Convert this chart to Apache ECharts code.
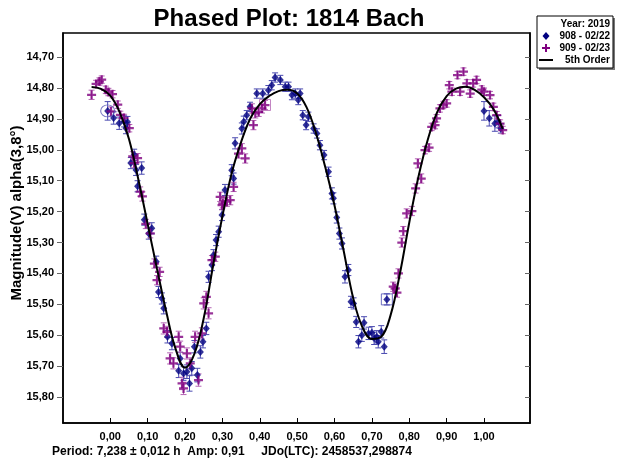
<!DOCTYPE html>
<html>
<head>
<meta charset="utf-8">
<script src="https://cdn.jsdelivr.net/npm/echarts@6/dist/echarts.min.js"></script>
<style>
html,body{margin:0;padding:0;background:#fff;}
#chart{width:618px;height:463px;}
</style>
</head>
<body>
<div id="chart"></div>
<script>
// ---- data (phase, magnitude, error) ----
const phaseTicks = [0, 0.1, 0.2, 0.3, 0.4, 0.5, 0.6, 0.7, 0.8, 0.9, 1.0];
const magTicks = [14.7, 14.8, 14.9, 15.0, 15.1, 15.2, 15.3, 15.4, 15.5, 15.6, 15.7, 15.8];

const obs908 = [
  [-0.007,14.874,0.03],[0.009,14.897,0.02],[0.024,14.914,0.02],[0.037,14.908,0.018],[0.046,14.91,0.018],
  [0.042,14.93,0.018],[0.055,15.043,0.018],[0.064,15.016,0.018],[0.069,15.065,0.018],[0.084,15.059,0.02],
  [0.073,15.118,0.018],[0.091,15.226,0.018],[0.111,15.254,0.018],[0.103,15.271,0.018],[0.123,15.362,0.018],
  [0.129,15.46,0.018],[0.138,15.481,0.018],[0.143,15.513,0.018],[0.153,15.605,0.02],[0.165,15.627,0.02],
  [0.187,15.675,0.02],[0.183,15.715,0.022],[0.196,15.724,0.022],[0.205,15.718,0.022],[0.212,15.756,0.025],
  [0.218,15.707,0.022],[0.225,15.637,0.02],[0.241,15.654,0.02],[0.233,15.729,0.022],[0.248,15.621,0.02],
  [0.257,15.578,0.02],[0.263,15.411,0.018],[0.272,15.373,0.018],[0.276,15.341,0.018],[0.283,15.292,0.018],
  [0.29,15.265,0.018],[0.299,15.211,0.018],[0.307,15.13,0.018],[0.325,15.066,0.018],[0.33,15.093,0.018],
  [0.334,14.979,0.018],[0.352,14.931,0.018],[0.357,14.909,0.018],[0.365,14.888,0.015],[0.374,14.861,0.015],
  [0.392,14.818,0.015],[0.408,14.818,0.015],[0.423,14.807,0.015],[0.432,14.791,0.015],[0.441,14.766,0.015],
  [0.455,14.774,0.015],[0.468,14.796,0.015],[0.477,14.796,0.015],[0.486,14.823,0.015],[0.495,14.818,0.015],
  [0.508,14.818,0.015],[0.503,14.839,0.015],[0.515,14.888,0.015],[0.524,14.92,0.015],[0.53,14.893,0.015],
  [0.544,14.931,0.015],[0.553,14.947,0.015],[0.561,14.985,0.015],[0.572,15.017,0.015],[0.584,15.071,0.015],
  [0.593,15.141,0.018],[0.597,15.157,0.018],[0.606,15.219,0.018],[0.613,15.271,0.018],[0.62,15.303,0.018],
  [0.637,15.389,0.018],[0.628,15.411,0.02],[0.644,15.492,0.018],[0.651,15.497,0.018],[0.658,15.557,0.018],
  [0.679,15.56,0.02],[0.673,15.60,0.02],[0.664,15.621,0.02],[0.691,15.594,0.02],[0.70,15.592,0.02],
  [0.706,15.61,0.02],[0.713,15.605,0.02],[0.717,15.621,0.02],[0.725,15.589,0.02],[0.733,15.637,0.022],
  [0.74,15.484,0.018],[1.0,14.874,0.03],[1.014,14.898,0.025],[1.029,14.915,0.025],[1.038,14.909,0.02],
  [1.045,14.931,0.015]
];

const obs909 = [
  [-0.05,14.822,0.015],[-0.038,14.787,0.012],[-0.029,14.779,0.012],[-0.023,14.773,0.012],[-0.012,14.806,0.012],
  [-0.005,14.813,0.012],[0.006,14.82,0.012],[0.002,14.876,0.015],[0.02,14.854,0.012],[0.027,14.887,0.012],
  [0.037,14.897,0.012],[0.051,14.93,0.012],[0.06,15.021,0.015],[0.073,15.027,0.015],[0.064,15.043,0.015],
  [0.08,15.135,0.015],[0.086,15.151,0.015],[0.095,15.24,0.015],[0.107,15.27,0.015],[0.118,15.368,0.015],
  [0.132,15.395,0.015],[0.125,15.422,0.015],[0.143,15.578,0.018],[0.152,15.589,0.018],[0.183,15.605,0.018],
  [0.16,15.675,0.018],[0.169,15.691,0.018],[0.187,15.637,0.018],[0.205,15.659,0.018],[0.192,15.756,0.02],
  [0.196,15.772,0.02],[0.236,15.745,0.02],[0.214,15.691,0.018],[0.227,15.605,0.018],[0.245,15.594,0.018],
  [0.25,15.497,0.018],[0.257,15.476,0.018],[0.263,15.529,0.018],[0.272,15.357,0.015],[0.281,15.346,0.015],
  [0.301,15.173,0.015],[0.312,15.168,0.015],[0.294,15.152,0.015],[0.299,15.179,0.015],[0.321,15.163,0.015],
  [0.33,15.12,0.015],[0.343,15.012,0.015],[0.352,14.995,0.015],[0.361,15.028,0.015],[0.383,14.92,0.015],
  [0.379,14.866,0.015],[0.388,14.882,0.015],[0.397,14.877,0.015],[0.406,14.866,0.015],[0.414,14.855,0.015],
  [0.757,15.443,0.015],[0.762,15.449,0.015],[0.767,15.462,0.015],[0.771,15.40,0.015],[0.78,15.30,0.015],
  [0.784,15.263,0.015],[0.793,15.206,0.015],[0.807,15.198,0.015],[0.817,15.125,0.015],[0.832,15.093,0.015],
  [0.823,15.044,0.015],[0.842,15.001,0.012],[0.853,14.993,0.012],[0.86,14.926,0.012],[0.869,14.92,0.012],
  [0.873,14.898,0.012],[0.882,14.866,0.012],[0.891,14.855,0.012],[0.90,14.85,0.012],[0.907,14.791,0.012],
  [0.914,14.812,0.012],[0.929,14.758,0.012],[0.945,14.747,0.012],[0.936,14.812,0.012],[0.954,14.785,0.012],
  [0.963,14.818,0.012],[0.971,14.785,0.012],[0.98,14.774,0.012],[0.994,14.805,0.012],[1.0,14.812,0.012],
  [1.016,14.823,0.012],[1.025,14.861,0.012],[1.034,14.888,0.012],[1.043,14.915,0.012],[1.05,14.936,0.012]
];

// points flagged in the reference (circle / square around them)
const circled908 = [[-0.007,14.874]];
const boxed908 = [[0.74,15.484]];
const boxed909 = [[0.414,14.855]];

// 5th order fit
const fitPhase = [-0.05,-0.025,0.0,0.025,0.05,0.075,0.10,0.125,0.15,0.175,0.20,0.225,0.25,0.275,0.30,0.325,0.35,0.375,0.40,0.425,0.45,0.475,0.50,0.525,0.55,0.575,0.60,0.625,0.65,0.675,0.70,0.725,0.75,0.775,0.80,0.825,0.85,0.875,0.90,0.925,0.95,0.975,1.00,1.025,1.05];
const fitMag = [14.797,14.803,14.825,14.878,14.965,15.095,15.24,15.385,15.525,15.645,15.705,15.66,15.545,15.375,15.215,15.075,14.975,14.898,14.852,14.826,14.81,14.806,14.818,14.862,14.945,15.055,15.18,15.33,15.48,15.575,15.612,15.605,15.535,15.40,15.235,15.085,14.965,14.877,14.826,14.802,14.796,14.806,14.83,14.868,14.932];

const navy = '#000080';
const purple = '#800080';
const navyErr = '#4a4ab0';
const purpleErr = '#b466b4';
const FONT = '"Liberation Sans", Arial, sans-serif';

const fmt2 = v => v.toFixed(2).replace('.', ',');

function errRender(color) {
  return function (params, api) {
    const x = api.value(0), y = api.value(1), e = api.value(2);
    const p1 = api.coord([x, y - e]);
    const p2 = api.coord([x, y + e]);
    const style = { stroke: color, lineWidth: 1 };
    return {
      type: 'group',
      children: [
        { type: 'line', shape: { x1: p1[0], y1: p1[1], x2: p2[0], y2: p2[1] }, style },
        { type: 'line', shape: { x1: p1[0] - 3, y1: p1[1], x2: p1[0] + 3, y2: p1[1] }, style },
        { type: 'line', shape: { x1: p2[0] - 3, y1: p2[1], x2: p2[0] + 3, y2: p2[1] }, style }
      ]
    };
  };
}

const plusPath = 'path://M3,0H5V3H8V5H5V8H3V5H0V3H3Z';

const chart = echarts.init(document.getElementById('chart'), null, { renderer: 'canvas' });

chart.setOption({
  animation: false,
  backgroundColor: '#fff',
  textStyle: { fontFamily: FONT },
  title: {
    text: 'Phased Plot: 1814 Bach',
    left: 284, top: 2, textAlign: 'center',
    textStyle: { fontFamily: FONT, fontSize: 24, fontWeight: 'bold', color: '#000' }
  },
  grid: {
    left: 63, right: 88, top: 33, bottom: 40,
    show: true, borderColor: '#000', borderWidth: 1.5, backgroundColor: '#fff'
  },
  xAxis: {
    type: 'value', min: -0.1265, max: 1.123,
    splitLine: { show: false },
    axisLine: { show: true, onZero: false, lineStyle: { color: '#000', width: 1.5 } },
    axisTick: { show: true, inside: true, length: 5, customValues: phaseTicks, lineStyle: { color: '#000' } },
    axisLabel: {
      customValues: phaseTicks, formatter: fmt2, margin: 8,
      fontFamily: FONT, fontSize: 11, fontWeight: 'bold', color: '#000'
    }
  },
  yAxis: [
    {
      type: 'value', inverse: true, min: 14.622, max: 15.884, position: 'left',
      splitLine: { show: false },
      axisLine: { show: true, onZero: false, lineStyle: { color: '#000', width: 1.5 } },
      axisTick: { show: true, inside: false, length: 6, customValues: magTicks, lineStyle: { color: '#666' } },
      axisLabel: {
        customValues: magTicks, formatter: fmt2, margin: 9,
        fontFamily: FONT, fontSize: 11, fontWeight: 'bold', color: '#000'
      }
    },
    {
      type: 'value', inverse: true, min: 14.622, max: 15.884, position: 'right',
      splitLine: { show: false },
      axisLine: { show: true, onZero: false, lineStyle: { color: '#000', width: 1.5 } },
      axisTick: { show: true, inside: true, length: 5, customValues: magTicks, lineStyle: { color: '#666' } },
      axisLabel: { show: false }
    }
  ],
  series: [
    { name: 'err908', type: 'custom', renderItem: errRender(navyErr), data: obs908, z: 2, silent: true },
    { name: 'err909', type: 'custom', renderItem: errRender(purpleErr), data: obs909, z: 2, silent: true },
    {
      name: '908 - 02/22', type: 'scatter', data: obs908.map(d => [d[0], d[1]]),
      symbol: 'diamond', symbolSize: [7, 8], itemStyle: { color: navy }, z: 3
    },
    {
      name: '909 - 02/23', type: 'scatter', data: obs909.map(d => [d[0], d[1]]),
      symbol: plusPath, symbolSize: 9, itemStyle: { color: purple }, z: 4
    },
    {
      name: 'circled', type: 'scatter', data: circled908, symbol: 'circle', symbolSize: [14, 12],
      itemStyle: { color: 'rgba(0,0,0,0)', borderColor: '#5a5ab8', borderWidth: 1 }, z: 5
    },
    {
      name: 'boxed908', type: 'scatter', data: boxed908, symbol: 'rect', symbolSize: 11,
      itemStyle: { color: 'rgba(0,0,0,0)', borderColor: navyErr, borderWidth: 1 }, z: 5
    },
    {
      name: 'boxed909', type: 'scatter', data: boxed909, symbol: 'rect', symbolSize: 11,
      itemStyle: { color: 'rgba(0,0,0,0)', borderColor: purpleErr, borderWidth: 1 }, z: 5
    },
    {
      name: '5th Order', type: 'line', data: fitPhase.map((p, i) => [p, fitMag[i]]),
      smooth: 0.4, showSymbol: false, lineStyle: { color: '#000', width: 2 }, z: 6
    }
  ],
  graphic: [
    { type: 'text', x: 17, y: 213, rotation: Math.PI / 2, style: { text: 'Magnitude(V) alpha(3,8°)', align: 'center', verticalAlign: 'middle', font: 'bold 15px ' + FONT, fill: '#000' } },
    { type: 'rect', shape: { x: 539, y: 18, width: 76, height: 52 }, style: { fill: '#777', stroke: null } },
    { type: 'rect', shape: { x: 537, y: 16, width: 76, height: 52 }, style: { fill: '#fff', stroke: '#000', lineWidth: 1 } },
    { type: 'text', x: 610, y: 24, style: { text: 'Year: 2019', align: 'right', verticalAlign: 'middle', font: 'bold 10px ' + FONT, fill: '#000' } },
    { type: 'text', x: 610, y: 36, style: { text: '908 - 02/22', align: 'right', verticalAlign: 'middle', font: 'bold 10px ' + FONT, fill: '#000' } },
    { type: 'text', x: 610, y: 48, style: { text: '909 - 02/23', align: 'right', verticalAlign: 'middle', font: 'bold 10px ' + FONT, fill: '#000' } },
    { type: 'text', x: 610, y: 60, style: { text: '5th Order', align: 'right', verticalAlign: 'middle', font: 'bold 10px ' + FONT, fill: '#000' } },
    { type: 'polygon', shape: { points: [[546, 32], [549.5, 36], [546, 40], [542.5, 36]] }, style: { fill: navy } },
    { type: 'polygon', shape: { points: [[545,44],[547,44],[547,47],[550,47],[550,49],[547,49],[547,52],[545,52],[545,49],[542,49],[542,47],[545,47]] }, style: { fill: purple } },
    { type: 'line', shape: { x1: 539, y1: 60, x2: 553, y2: 60 }, style: { stroke: '#000', lineWidth: 2 } },
    { type: 'text', x: 52, y: 452, style: { text: 'Period: 7,238 ± 0,012 h  Amp: 0,91     JDo(LTC): 2458537,298874', verticalAlign: 'middle', font: 'bold 12px ' + FONT, fill: '#000' } }
  ]
});
</script>
</body>
</html>
